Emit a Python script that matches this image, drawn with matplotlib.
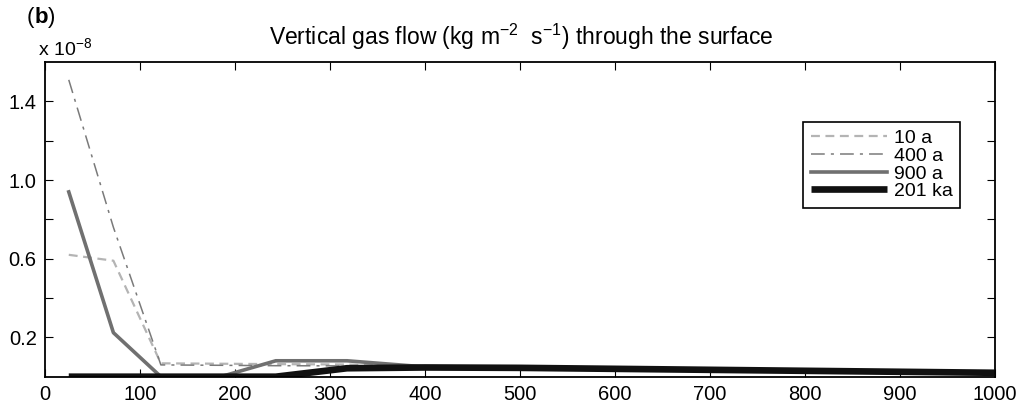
import matplotlib
matplotlib.use("Agg")
import matplotlib.pyplot as plt

plt.rcParams['font.family'] = ['Liberation Sans', 'DejaVu Sans']
plt.rcParams['mathtext.fontset'] = 'custom'
plt.rcParams['mathtext.rm'] = 'Liberation Sans'
plt.rcParams['mathtext.it'] = 'Liberation Sans:italic'

# Horizontal position along the profile (m)
distance = [25, 72, 122, 185, 243, 318, 400, 500, 600, 700, 800, 900, 1000]

# Vertical gas flow through the surface, in units of 1e-8 kg m^-2 s^-1
flow_10a = [0.62, 0.59, 0.068, 0.066, 0.064, 0.062, 0.052, 0.047, 0.042, 0.037, 0.032, 0.027, 0.022]
flow_400a = [1.51, 0.76, 0.06, 0.058, 0.056, 0.055, 0.05, 0.046, 0.041, 0.036, 0.031, 0.026, 0.021]
flow_900a = [0.94, 0.224, 0.0, 0.0, 0.081, 0.081, 0.05, 0.046, 0.041, 0.036, 0.031, 0.026, 0.021]
flow_201ka = [0.0, 0.0, 0.0, 0.0, 0.0, 0.043, 0.047, 0.045, 0.04, 0.035, 0.03, 0.025, 0.02]

series_labels = ['10 a', '400 a', '900 a', '201 ka']

xticks = list(range(0, 1001, 100))
yticks = [0.2, 0.4, 0.6, 0.8, 1.0, 1.2, 1.4]
ytick_labels = ['0.2', '', '0.6', '', '1.0', '', '1.4']

fig = plt.figure(figsize=(10.28, 4.08), dpi=100)
ax = fig.add_axes([0.0438, 0.0767, 0.9237, 0.771])

ax.plot(distance, flow_10a, color='#b4b4b4', lw=1.6, ls=(0, (4, 2.5)), label=series_labels[0])
ax.plot(distance, flow_400a, color='#7a7a7a', lw=1.1, ls=(0, (9, 4, 2, 4)), label=series_labels[1])
ax.plot(distance, flow_900a, color='#707070', lw=2.6, label=series_labels[2])
ax.plot(distance, flow_201ka, color='#111111', lw=4.8, label=series_labels[3],
        solid_capstyle='butt')

ax.set_xlim(0, 1000)
ax.set_ylim(0, 1.6)
ax.set_xticks(xticks)
ax.set_xticklabels([str(t) for t in xticks])
ax.set_yticks(yticks)
ax.set_yticklabels(ytick_labels)
ax.tick_params(direction='in', top=True, right=True, length=6, width=0.8,
               labelsize=14.5, colors='black', pad=6)
for s in ax.spines.values():
    s.set_linewidth(1.3)

leg = ax.legend(loc='upper right', bbox_to_anchor=(0.964, 0.81), fontsize=14,
                frameon=True, fancybox=False, edgecolor='black', framealpha=1,
                handlelength=3.9, handletextpad=0.35, labelspacing=0.0,
                borderpad=0.4, borderaxespad=0)
leg.get_frame().set_linewidth(1.2)

fig.text(0.507, 0.909, r'Vertical gas flow (kg m$^{-2}$  s$^{-1}$) through the surface',
         ha='center', va='center', fontsize=16.5)
fig.text(0.026, 0.956, '(', ha='left', va='center', fontsize=16)
fig.text(0.0332, 0.956, 'b', ha='left', va='center', fontsize=16, fontweight='bold')
fig.text(0.0468, 0.956, ')', ha='left', va='center', fontsize=16)
fig.text(0.037, 0.882, r'x 10$^{-8}$', ha='left', va='center', fontsize=14)

fig.savefig('out.png', dpi=100)
